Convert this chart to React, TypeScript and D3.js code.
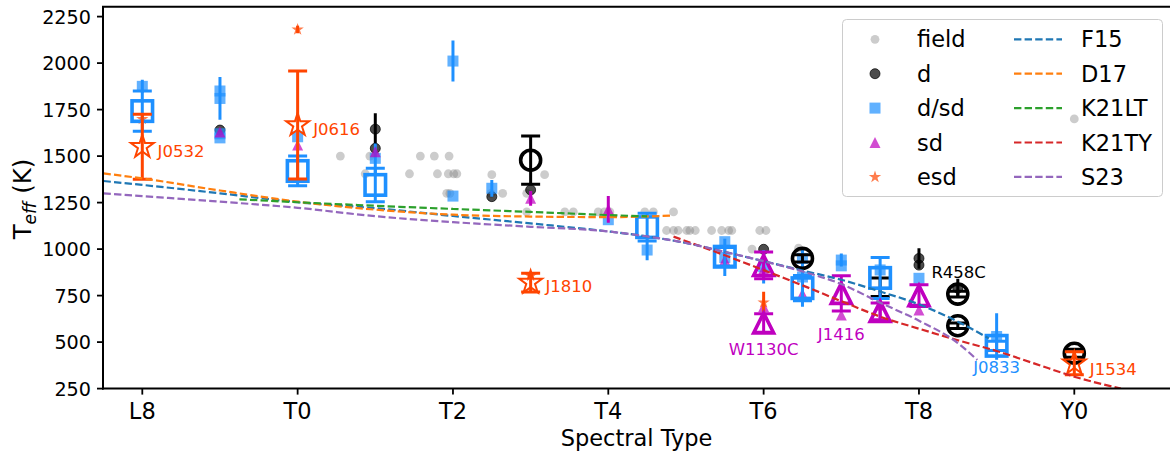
import React from 'react';
import * as d3 from 'd3';

// Spectral type coded numerically: L8=18, L9=19, T0=20 ... T9=29, Y0=30
const xTickValues = [18, 20, 22, 24, 26, 28, 30];
const xTickLabels = ['L8', 'T0', 'T2', 'T4', 'T6', 'T8', 'Y0'];
const yTickValues = [250, 500, 750, 1000, 1250, 1500, 1750, 2000, 2250];

// field objects [SpT, Teff]
const fieldPts: [number, number][] = [
  [20.55, 1500], [20.93, 1500], [21.58, 1500], [21.76, 1500], [21.95, 1500],
  [20.87, 1405], [21.44, 1405], [21.8, 1405], [21.94, 1405], [22.01, 1405], [22.05, 1405], [22.5, 1400], [23.18, 1400],
  [21.92, 1300], [21.96, 1300], [22.49, 1300], [22.64, 1300], [22.95, 1300],
  [22.95, 1200], [23.44, 1200], [23.55, 1200], [23.87, 1200], [23.95, 1200], [24.02, 1200], [24.47, 1200], [24.58, 1200], [24.84, 1200],
  [24.75, 1100], [24.84, 1100], [24.9, 1100], [25.01, 1100], [25.05, 1100], [25.12, 1100],
  [25.33, 1100], [25.46, 1100], [25.55, 1100], [25.59, 1100], [25.95, 1100], [26.03, 1100],
  [25.85, 1000], [26.45, 1005], [30, 1700],
];

// companions [SpT, Teff, err]
const dPts: [number, number, number][] = [
  [19, 1640, 0], [21, 1645, 85], [21, 1542, 0], [22.5, 1282, 0], [23, 1318, 0],
  [26, 999, 0], [28, 950, 55], [28, 914, 0], [28.5, 790, 50],
];
const dCapBars: [number, number, number][] = [[27.5, 795, 50]];
const dsdPts: [number, number, number][] = [
  [18, 1875, 35], [19, 1850, 0], [19, 1810, 115], [19, 1620, 0], [19, 1598, 0], [20, 1604, 0],
  [21, 1488, 80], [22, 2011, 110], [22, 1285, 0], [22.5, 1327, 45], [24, 1158, 0], [24.5, 995, 55],
  [25.5, 1040, 0], [25.5, 955, 100], [26, 905, 90], [26.5, 950, 0], [26.5, 850, 160],
  [27, 941, 35], [27, 910, 0], [27.5, 888, 0], [28, 843, 0], [29, 530, 125],
];
const sdPts: [number, number, number][] = [
  [19, 1630, 0], [20, 1560, 0], [21, 1523, 0], [23, 1273, 40], [24, 1214, 72], [25.5, 941, 40],
  [26, 891, 0], [26, 690, 0], [26.5, 760, 30], [27, 646, 0], [27.5, 700, 70], [28, 672, 0],
];
const esdPts: [number, number, number][] = [[18, 1700, 0], [20, 2181, 20], [23, 855, 0], [26, 713, 58]];

// averages [SpT, Teff, err]
const dsdMean: [number, number, number][] = [
  [18, 1742, 108], [20, 1420, 80], [21, 1345, 90], [24.5, 1118, 75], [25.5, 959, 50],
  [26.5, 790, 68], [27.5, 845, 110], [29, 480, 25],
];
const dMean: [number, number, number][] = [[23, 1478, 130], [26.5, 950, 20], [28.5, 758, 15], [28.5, 588, 15], [30, 440, 22]];
const sdMean: [number, number, number][] = [[26, 912, 72], [26, 603, 50], [27, 762, 95], [27.5, 665, 45], [28, 750, 58]];
const esdMean: [number, number, number][] = [[18, 1550, 175], [20, 1667, 290], [23, 820, 50], [30, 386, 62]];

// relations [SpT, Teff]
const F15: [number, number][] = [
  [17.5, 1366], [18, 1345], [19, 1300], [20, 1252], [21, 1220], [22, 1178], [23, 1138], [24, 1095],
  [24.5, 1068], [25, 1033], [25.5, 985], [26, 935], [26.5, 885], [27, 835], [27.5, 772], [28, 703], [28.5, 610], [28.9, 520],
];
const D17: [number, number][] = [
  [17.5, 1407], [18, 1380], [19, 1315], [20, 1255], [21, 1212], [22, 1185], [23, 1175], [24, 1172], [24.83, 1180],
];
const K21LT: [number, number][] = [
  [19.25, 1268], [20, 1252], [21, 1233], [22, 1216], [23, 1200], [24, 1183], [24.5, 1176],
];
const K21TY: [number, number][] = [
  [24.84, 1067], [25.35, 990], [26, 887], [26.5, 805], [27, 720], [27.5, 637], [28, 572], [28.5, 510], [29, 452], [29.5, 383], [30, 314], [30.6, 250],
];
const S23: [number, number][] = [
  [17.5, 1300], [18, 1285], [19, 1255], [20, 1222], [21, 1177], [22, 1145], [23, 1120], [24, 1095],
  [24.5, 1068], [25, 1033], [25.5, 985], [26, 935], [26.5, 880], [27, 812], [27.5, 712], [28, 615], [28.5, 495], [28.75, 404],
];

// labels [text, SpT, Teff, anchor, group]
const labels: [string, number, number, string, string][] = [
  ['J0532', 18.196, 1495, 'start', 'esd'],
  ['J0616', 20.2, 1613, 'start', 'esd'],
  ['J1810', 23.19, 771, 'start', 'esd'],
  ['J1534', 30.2, 323, 'start', 'esd'],
  ['W1130C', 26, 431, 'middle', 'sd'],
  ['J1416', 27, 511, 'middle', 'sd'],
  ['J0833', 29, 334, 'middle', 'dsd'],
  ['R458C', 28.16, 845, 'start', 'd'],
];

const pointLegend = ['field', 'd', 'd/sd', 'sd', 'esd'];
const lineLegend = ['F15', 'D17', 'K21LT', 'K21TY', 'S23'];

const COL = {
  field: '#808080', d: '#000000', dsd: '#1e90ff', sd: '#bf00bf', esd: '#ff4500',
  F15: '#1f77b4', D17: '#ff7f0e', K21LT: '#2ca02c', K21TY: '#d62728', S23: '#9467bd',
};

const x = d3.scaleLinear().domain([18, 30]).range([142.3, 1074.3]);
const y = d3.scaleLinear().domain([250, 2250]).range([388.6, 16.6]);
const LEFT = x(17.494);
const TOP = y(2303);
const BOTTOM = y(250);
const RIGHT = 1175;

function starPath(R: number) {
  const r = R * 0.381966;
  const pts: string[] = [];
  for (let i = 0; i < 10; i++) {
    const a = -Math.PI / 2 + (i * Math.PI) / 5;
    const rad = i % 2 ? r : R;
    pts.push(`${(rad * Math.cos(a)).toFixed(2)},${(rad * Math.sin(a)).toFixed(2)}`);
  }
  return 'M' + pts.join('L') + 'Z';
}
function triPath(s: number) {
  const h = s / 2;
  return `M0,${-h}L${h},${h}L${-h},${h}Z`;
}

function Marker({ kind, cx, cy, big }: { kind: string; cx: number; cy: number; big?: boolean }) {
  const c = (COL as any)[kind];
  if (big) {
    const sw = 3.6;
    if (kind === 'dsd') return <rect x={cx - 10.25} y={cy - 10.25} width={20.5} height={20.5} fill="none" stroke={c} strokeWidth={sw} />;
    if (kind === 'd') return <circle cx={cx} cy={cy} r={10} fill="none" stroke={c} strokeWidth={sw} />;
    if (kind === 'sd') return <path d={triPath(20)} transform={`translate(${cx},${cy})`} fill="none" stroke={c} strokeWidth={sw} strokeLinejoin="miter" />;
    return <path d={starPath(12)} transform={`translate(${cx},${cy})`} fill="none" stroke={c} strokeWidth={2} />;
  }
  if (kind === 'field') return <circle cx={cx} cy={cy} r={4.4} fill={c} fillOpacity={0.4} />;
  if (kind === 'd') return <circle cx={cx} cy={cy} r={5} fill="#000" fillOpacity={0.7} stroke="#000" strokeOpacity={0.7} strokeWidth={1} />;
  if (kind === 'dsd') return <rect x={cx - 5.5} y={cy - 5.5} width={11} height={11} fill={c} fillOpacity={0.7} />;
  if (kind === 'sd') return <path d={triPath(11)} transform={`translate(${cx},${cy})`} fill={c} fillOpacity={0.7} />;
  return <path d={starPath(6.5)} transform={`translate(${cx},${cy})`} fill={c} fillOpacity={0.7} />;
}

function ErrBar({ sx, v, e, color, caps }: { sx: number; v: number; e: number; color: string; caps?: boolean }) {
  if (!e) return null;
  const cx = x(sx);
  const y1 = y(v + e), y2 = y(v - e);
  return (
    <g stroke={color} strokeWidth={3}>
      <line x1={cx} x2={cx} y1={y1} y2={y2} />
      {caps && <line x1={cx - 9.5} x2={cx + 9.5} y1={y1} y2={y1} />}
      {caps && <line x1={cx - 9.5} x2={cx + 9.5} y1={y2} y2={y2} />}
    </g>
  );
}

const lineGen = d3
  .line<[number, number]>()
  .x((d) => x(d[0]))
  .y((d) => y(d[1]))
  .curve(d3.curveMonotoneX);

export default function App() {
  const smallSets: [string, [number, number, number][]][] = [
    ['d', dPts], ['dsd', dsdPts], ['sd', sdPts], ['esd', esdPts],
  ];
  const bigSets: [string, [number, number, number][]][] = [
    ['dsd', dsdMean], ['d', dMean], ['sd', sdMean], ['esd', esdMean],
  ];
  const relations: [string, [number, number][]][] = [
    ['F15', F15], ['D17', D17], ['K21LT', K21LT], ['K21TY', K21TY], ['S23', S23],
  ];
  const legTop = 39.3, legStep = 34.4;
  return (
    <svg
      width={1170}
      height={455}
      style={{ position: 'absolute', left: 0, top: 0, fontFamily: 'DejaVu Sans, sans-serif', background: '#fff' }}
    >
      <defs>
        <clipPath id="plotClip">
          <rect x={LEFT} y={TOP} width={RIGHT - LEFT} height={BOTTOM - TOP} />
        </clipPath>
      </defs>
      <rect x={0} y={0} width={1170} height={455} fill="#fff" />
      {/* legend frame */}
      <rect x={842.5} y={19.5} width={320} height={177} rx={4} fill="#fff" fillOpacity={0.8} stroke="#cccccc" strokeWidth={1} />
      <g clipPath="url(#plotClip)">
        {fieldPts.map((d, i) => (
          <Marker key={'f' + i} kind="field" cx={x(d[0])} cy={y(d[1])} />
        ))}
        {smallSets.map(([k, arr]) => (
          <g key={'s' + k}>
            {arr.map((d, i) => (
              <g key={i}>
                <ErrBar sx={d[0]} v={d[1]} e={d[2]} color={(COL as any)[k]} />
                <Marker kind={k} cx={x(d[0])} cy={y(d[1])} />
              </g>
            ))}
          </g>
        ))}
        {dCapBars.map((d, i) => (
          <ErrBar key={'cb' + i} sx={d[0]} v={d[1]} e={d[2]} color="#000" caps />
        ))}
        {bigSets.map(([k, arr]) => (
          <g key={'b' + k}>
            {arr.map((d, i) => (
              <g key={i}>
                <ErrBar sx={d[0]} v={d[1]} e={d[2]} color={(COL as any)[k]} caps />
                <Marker kind={k} cx={x(d[0])} cy={y(d[1])} big />
              </g>
            ))}
          </g>
        ))}
        {relations.map(([k, arr]) => (
          <path key={k} d={lineGen(arr) || ''} fill="none" stroke={(COL as any)[k]} strokeWidth={2.2} strokeDasharray="7.4,3.2" />
        ))}
      </g>
      {labels.map(([t, sx, v, anchor, g]) => (
        <text key={t} x={x(sx)} y={y(v)} fontSize={16.5} textAnchor={anchor as any} fill={g === 'sd' ? '#bf00bf' : (COL as any)[g]}>
          {t}
        </text>
      ))}
      {/* axes */}
      <g stroke="#000" strokeWidth={2} fill="none">
        <line x1={LEFT} x2={LEFT} y1={TOP} y2={BOTTOM + 1} />
        <line x1={LEFT - 1} x2={RIGHT} y1={BOTTOM} y2={BOTTOM} />
        <line x1={LEFT - 1} x2={RIGHT} y1={TOP} y2={TOP} />
      </g>
      {xTickValues.map((v, i) => (
        <g key={'xt' + i}>
          <line x1={x(v)} x2={x(v)} y1={BOTTOM} y2={BOTTOM + 6} stroke="#000" strokeWidth={1.8} />
          <text x={x(v)} y={419} fontSize={22.5} textAnchor="middle" fill="#000">
            {xTickLabels[i]}
          </text>
        </g>
      ))}
      {yTickValues.map((v, i) => (
        <g key={'yt' + i}>
          <line x1={LEFT - 6} x2={LEFT} y1={y(v)} y2={y(v)} stroke="#000" strokeWidth={1.8} />
          <text x={91} y={y(v) + 7} fontSize={19.2} textAnchor="end" fill="#000">
            {v}
          </text>
        </g>
      ))}
      <text x={(LEFT + 1170) / 2} y={446} fontSize={22.5} textAnchor="middle" fill="#000">
        Spectral Type
      </text>
      <text transform={`translate(30.5,${199}) rotate(-90)`} fontSize={24.5} textAnchor="middle" fill="#000">
        T<tspan fontStyle="italic" fontSize={17} dy={5}>eff</tspan>
        <tspan dy={-5}> (K)</tspan>
      </text>
      {/* legend entries */}
      {pointLegend.map((t, i) => {
        const cy = legTop + i * legStep;
        const kind = ['field', 'd', 'dsd', 'sd', 'esd'][i];
        return (
          <g key={'pl' + t}>
            <Marker kind={kind} cx={875} cy={cy} />
            <text x={917} y={cy + 8} fontSize={22.5} fill="#000">
              {t}
            </text>
          </g>
        );
      })}
      {lineLegend.map((t, i) => {
        const cy = legTop + i * legStep;
        return (
          <g key={'ll' + t}>
            <line x1={1014} x2={1062} y1={cy} y2={cy} stroke={(COL as any)[t]} strokeWidth={2.2} strokeDasharray="7.4,3.2" />
            <text x={1081} y={cy + 8} fontSize={22.5} fill="#000">
              {t}
            </text>
          </g>
        );
      })}
    </svg>
  );
}
